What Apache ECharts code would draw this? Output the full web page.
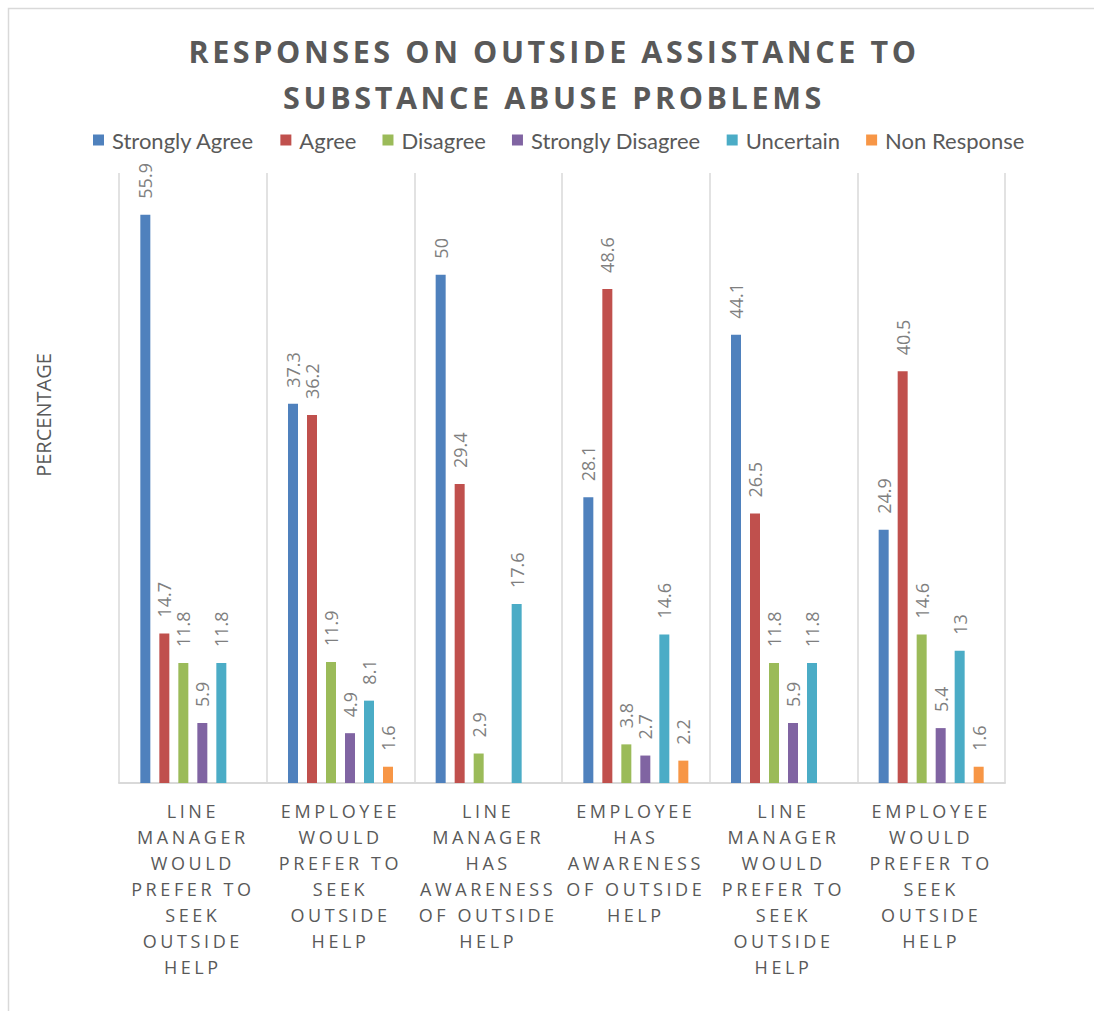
<!DOCTYPE html>
<html>
<head>
<meta charset="utf-8">
<script src="https://cdn.jsdelivr.net/npm/echarts@6/dist/echarts.min.js"></script>
<style>
  html, body { margin: 0; padding: 0; background: #ffffff; }
  #chart { width: 1094px; height: 1011px; }
  #chart text[style*="TitleSpacing"], #chart text[font-family*="TitleSpacing"] { letter-spacing: 3.6px; }
  #chart text[style*="CatSpacing"], #chart text[font-family*="CatSpacing"] { letter-spacing: 3.6px; }
</style>
</head>
<body>
<div id="chart"></div>
<script>
const titleText = 'RESPONSES ON OUTSIDE ASSISTANCE TO\nSUBSTANCE ABUSE PROBLEMS';
const yAxisTitle = 'PERCENTAGE';
const categories = [
  'LINE\nMANAGER\nWOULD\nPREFER TO\nSEEK\nOUTSIDE\nHELP',
  'EMPLOYEE\nWOULD\nPREFER TO\nSEEK\nOUTSIDE\nHELP',
  'LINE\nMANAGER\nHAS\nAWARENESS\nOF OUTSIDE\nHELP',
  'EMPLOYEE\nHAS\nAWARENESS\nOF OUTSIDE\nHELP',
  'LINE\nMANAGER\nWOULD\nPREFER TO\nSEEK\nOUTSIDE\nHELP',
  'EMPLOYEE\nWOULD\nPREFER TO\nSEEK\nOUTSIDE\nHELP'
];
const seriesNames = ['Strongly Agree', 'Agree', 'Disagree', 'Strongly Disagree', 'Uncertain', 'Non Response'];
const stronglyAgree    = [55.9, 37.3, 50, 28.1, 44.1, 24.9];
const agree            = [14.7, 36.2, 29.4, 48.6, 26.5, 40.5];
const disagree         = [11.8, 11.9, 2.9, 3.8, 11.8, 14.6];
const stronglyDisagree = [5.9, 4.9, null, 2.7, 5.9, 5.4];
const uncertain        = [11.8, 8.1, 17.6, 14.6, 11.8, 13];
const nonResponse      = [null, 1.6, null, 2.2, null, 1.6];
const colors = ['#4F81BD', '#C0504D', '#9BBB59', '#8064A2', '#4BACC6', '#F79646'];

const seriesValues = [stronglyAgree, agree, disagree, stronglyDisagree, uncertain, nonResponse];

const chart = echarts.init(document.getElementById('chart'), null, { renderer: 'svg' });

const series = seriesNames.map((name, i) => ({
  name: name,
  type: 'bar',
  data: seriesValues[i],
  barWidth: 10,
  barGap: '90%',
  itemStyle: { color: colors[i] },
  label: {
    show: true,
    position: 'top',
    rotate: 90,
    align: 'left',
    verticalAlign: 'middle',
    distance: 16,
    color: '#7F7F7F',
    fontFamily: "'Open Sans', sans-serif",
    fontSize: 18
  }
}));

chart.setOption({
  backgroundColor: '#ffffff',
  animation: false,
  color: colors,
  title: {
    text: titleText,
    left: 549,
    textAlign: 'center',
    top: 23,
    textStyle: {
      fontFamily: "TitleSpacing, 'Open Sans', sans-serif",
      fontWeight: 'bold',
      fontSize: 30.5,
      lineHeight: 46,
      color: '#595959'
    }
  },
  legend: {
    data: seriesNames,
    left: 88,
    top: 124,
    icon: 'rect',
    itemWidth: 11,
    itemHeight: 11,
    itemGap: 26,
    textStyle: {
      fontFamily: "Lato, sans-serif",
      fontSize: 22,
      color: '#595959',
      padding: [0, 0, 0, 3]
    }
  },
  graphic: [
    {
      type: 'rect',
      shape: { x: 8.5, y: 8.5, width: 1100, height: 1010 },
      style: { fill: 'none', stroke: '#D9D9D9', lineWidth: 1.5 },
      silent: true
    },
    {
      type: 'text',
      x: 43,
      y: 415,
      rotation: Math.PI / 2,
      style: {
        text: yAxisTitle,
        fontFamily: "'Open Sans', sans-serif",
        fontSize: 20,
        fill: '#595959',
        align: 'center',
        verticalAlign: 'middle'
      }
    }
  ],
  grid: { left: 119, right: 89, top: 173, bottom: 228 },
  xAxis: {
    type: 'category',
    data: categories,
    axisTick: { show: false },
    axisLine: { lineStyle: { color: '#D9D9D9', width: 2 } },
    splitLine: { show: true, lineStyle: { color: '#D9D9D9', width: 1.5 } },
    axisLabel: {
      interval: 0,
      margin: 15,
      fontFamily: "CatSpacing, 'Open Sans', sans-serif",
      fontSize: 18,
      lineHeight: 26,
      color: '#595959',
      align: 'center'
    }
  },
  yAxis: {
    type: 'value',
    min: 0,
    max: 60,
    interval: 10,
    axisLabel: { show: false },
    axisLine: { show: false },
    axisTick: { show: false },
    splitLine: { show: false }
  },
  series: series
});
</script>
</body>
</html>
